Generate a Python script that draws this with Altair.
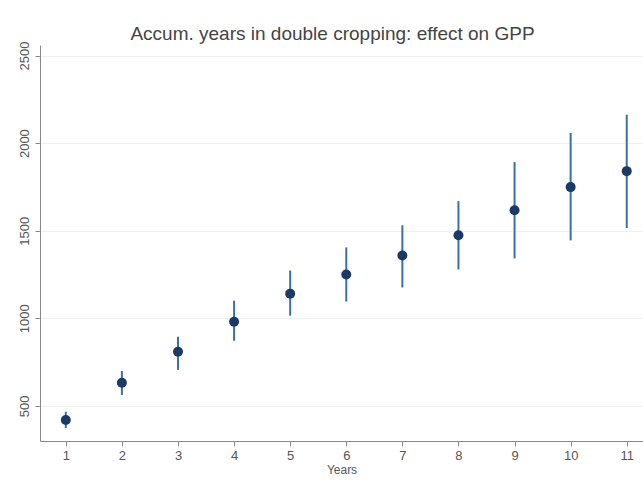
import altair as alt
import pandas as pd

# Estimated effect of accumulated years in double cropping on GPP
years = [1, 2, 3, 4, 5, 6, 7, 8, 9, 10, 11]
effect = [420, 632, 809, 981, 1141, 1250, 1359, 1474, 1617, 1749, 1840]
ci_low = [374, 563, 706, 872, 1015, 1096, 1176, 1279, 1342, 1445, 1515]
ci_high = [467, 700, 895, 1101, 1273, 1405, 1531, 1669, 1892, 2058, 2162]

df = pd.DataFrame({"year": years, "effect": effect, "lo": ci_low, "hi": ci_high})

x_enc = alt.X(
    "year:Q",
    scale=alt.Scale(domain=[0.54, 11.29], nice=False, zero=False),
    axis=alt.Axis(
        values=years, format="d", title="Years", grid=False, tickSize=5,
        labelFontSize=13, labelPadding=3, titleFontSize=12,
        titleFontWeight="normal", titlePadding=2,
    ),
)
y_scale = alt.Scale(domain=[300, 2560], nice=False, zero=False)

base = alt.Chart(df)

ci = base.mark_rule(color="#3d6ea8", strokeWidth=2).encode(
    x=x_enc,
    y=alt.Y(
        "lo:Q", scale=y_scale,
        axis=alt.Axis(
            values=[500, 1000, 1500, 2000, 2500], format="d", title=None,
            grid=True, gridColor="#f0f0f0", tickSize=5, labelAngle=270,
            labelFontSize=13, labelPadding=4,
        ),
    ),
    y2="hi:Q",
)

pts = base.mark_circle(color="#1b3a68", opacity=1, size=100).encode(
    x="year:Q",
    y="effect:Q",
)

chart = (
    (ci + pts)
    .properties(
        width=603,
        height=396,
        autosize=alt.AutoSizeParams(type="none"),
        padding={"left": 40, "top": 45, "right": 0, "bottom": 39},
        title=alt.TitleParams(
            "Accum. years in double cropping: effect on GPP",
            fontSize=19, fontWeight="normal", color="#444444",
            anchor="middle", offset=-3, dx=-9,
        ),
    )
    .configure_view(stroke=None)
    .configure_axis(
        domainColor="#888888", tickColor="#888888",
        labelColor="#555555", titleColor="#555555",
        labelFont="Liberation Sans", titleFont="Liberation Sans",
    )
    .configure_title(font="Liberation Sans")
)

chart.save("out.html", embed_options={"renderer": "svg", "actions": False})
